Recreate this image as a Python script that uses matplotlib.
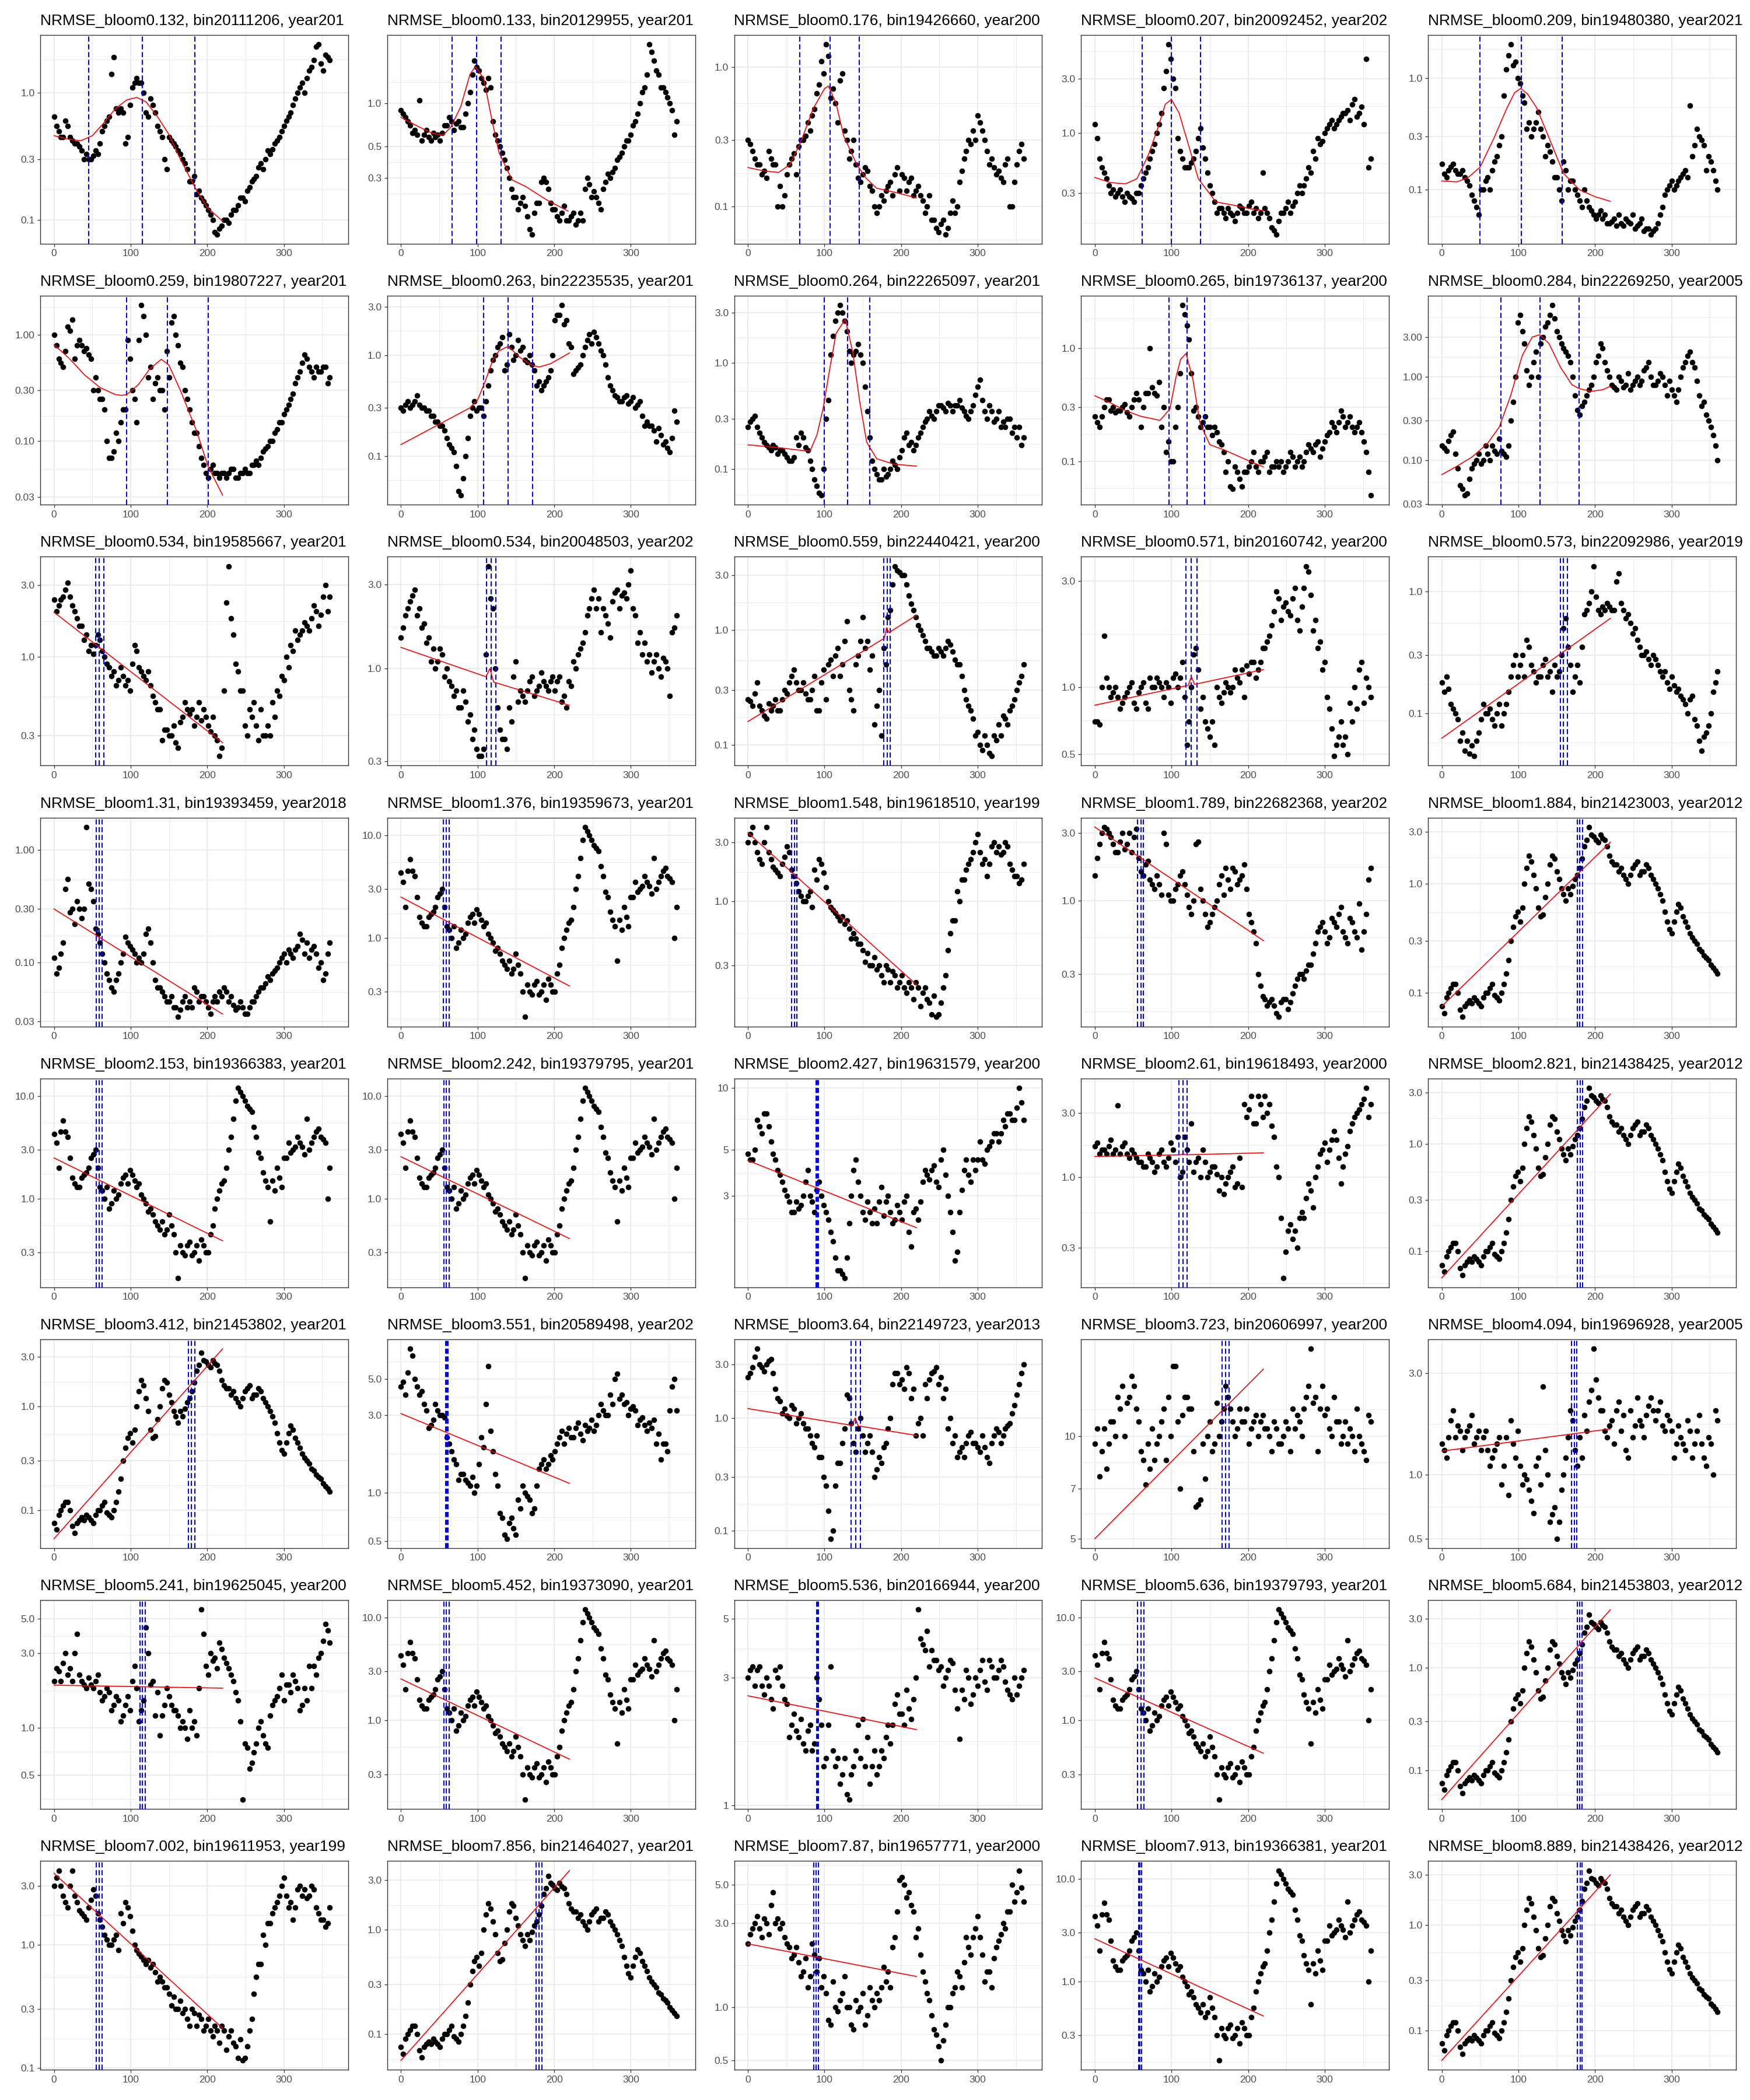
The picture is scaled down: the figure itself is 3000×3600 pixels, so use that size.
import numpy as np
import matplotlib
matplotlib.use("Agg")
import matplotlib.pyplot as plt
from matplotlib.ticker import FixedLocator, NullFormatter
from matplotlib.transforms import Bbox, TransformedBbox

plt.rcParams["font.family"] = ["Liberation Sans", "DejaVu Sans"]

# day-of-year sampling grids: sNN is read at days 0,6,...,360 and sNNm at 3,9,...,357
days = np.arange(0, 361, 6)
days_mid = np.arange(3, 358, 6)

s01 = [0.65, 0.5, 0.45, 0.55, 0.42, 0.4, 0.35, 0.33, 0.3, 0.35,
       0.4, 0.55, 0.65, 1.9, 0.7, 0.7, 0.45, 1.1, 1.3, 1.2,
       0.7, 0.9, 0.7, 0.5, 0.3, 0.45, 0.4, 0.35, 0.3, 0.25,
       0.2, 0.16, 0.15, 0.13, 0.11, 0.08, 0.085, 0.1, 0.095, 0.12,
       0.13, 0.15, 0.17, 0.2, 0.22, 0.28, 0.3, 0.33, 0.4, 0.45,
       0.55, 0.65, 0.8, 1.0, 1.2, 1.3, 1.6, 2.3, 1.7, 2.0,
       1.8]
s01m = [0.55, 0.45, 0.6, 0.45, 0.4, 0.38, 0.3, 0.3, 0.32, 0.33,
        0.5, 0.6, 1.4, 0.75, 0.75, 0.4, 0.8, 1.2, 1.2, 1.0,
        0.65, 0.8, 0.55, 0.45, 0.25, 0.42, 0.38, 0.33, 0.28, 0.2,
        0.22, 0.17, 0.14, 0.12, 0.1, 0.077, 0.09, 0.1, 0.11, 0.12,
        0.15, 0.14, 0.18, 0.21, 0.26, 0.25, 0.35, 0.36, 0.42, 0.5,
        0.6, 0.7, 0.9, 1.1, 1.0, 1.5, 1.8, 2.4, 1.5, 1.9]
s02 = [0.9, 0.8, 0.7, 0.65, 1.05, 0.6, 0.58, 0.62, 0.6, 0.62,
       0.7, 0.75, 0.72, 0.68, 0.85, 1.2, 2.0, 1.7, 1.4, 1.5,
       0.75, 0.55, 0.45, 0.35, 0.25, 0.22, 0.2, 0.19, 0.13, 0.17,
       0.2, 0.3, 0.25, 0.18, 0.16, 0.17, 0.15, 0.16, 0.14, 0.17,
       0.25, 0.27, 0.24, 0.2, 0.25, 0.32, 0.33, 0.4, 0.45, 0.55,
       0.6, 0.75, 1.0, 1.3, 2.6, 2.0, 1.6, 1.3, 1.1, 0.9,
       0.75]
s02m = [0.85, 0.75, 0.62, 0.6, 0.55, 0.65, 0.55, 0.58, 0.55, 0.7,
        0.8, 0.65, 0.75, 0.68, 1.0, 1.6, 1.8, 1.5, 1.25, 1.3,
        0.6, 0.5, 0.4, 0.3, 0.22, 0.18, 0.22, 0.16, 0.12, 0.2,
        0.28, 0.28, 0.2, 0.18, 0.15, 0.19, 0.15, 0.17, 0.15, 0.15,
        0.3, 0.22, 0.22, 0.18, 0.28, 0.3, 0.35, 0.42, 0.5, 0.55,
        0.7, 0.85, 1.2, 1.6, 2.3, 1.7, 1.3, 1.2, 1.0, 0.6]
s03 = [0.3, 0.25, 0.2, 0.17, 0.16, 0.22, 0.2, 0.14, 0.12, 0.2,
       0.24, 0.27, 0.3, 0.4, 0.45, 0.65, 1.1, 1.45, 0.6, 0.55,
       0.8, 0.35, 0.22, 0.3, 0.16, 0.17, 0.18, 0.13, 0.09, 0.12,
       0.13, 0.15, 0.17, 0.13, 0.16, 0.15, 0.12, 0.14, 0.11, 0.1,
       0.08, 0.07, 0.075, 0.063, 0.09, 0.09, 0.15, 0.22, 0.3, 0.35,
       0.45, 0.35, 0.25, 0.22, 0.17, 0.16, 0.2, 0.1, 0.15, 0.25,
       0.22]
s03m = [0.28, 0.22, 0.2, 0.18, 0.25, 0.2, 0.1, 0.1, 0.17, 0.22,
        0.17, 0.3, 0.32, 0.35, 0.5, 0.75, 0.9, 1.2, 0.7, 0.4,
        0.9, 0.3, 0.25, 0.2, 0.15, 0.19, 0.14, 0.1, 0.1, 0.11,
        0.14, 0.12, 0.19, 0.17, 0.13, 0.16, 0.13, 0.12, 0.09, 0.12,
        0.08, 0.065, 0.08, 0.07, 0.11, 0.1, 0.18, 0.25, 0.28, 0.3,
        0.4, 0.3, 0.2, 0.19, 0.18, 0.15, 0.22, 0.1, 0.2, 0.28]
s04 = [1.2, 0.6, 0.45, 0.35, 0.32, 0.3, 0.28, 0.3, 0.27, 0.3,
       0.35, 0.45, 0.6, 0.8, 1.2, 2.5, 6.0, 3.0, 0.9, 0.6,
       0.5, 0.55, 0.7, 1.1, 0.6, 0.35, 0.25, 0.22, 0.2, 0.22,
       0.19, 0.2, 0.22, 0.2, 0.25, 0.22, 0.2, 0.22, 0.18, 0.14,
       0.17, 0.2, 0.25, 0.23, 0.3, 0.3, 0.4, 0.45, 0.6, 0.8,
       1.0, 1.2, 1.1, 1.3, 1.5, 1.6, 1.8, 1.4, 1.7, 4.5,
       0.6]
s04m = [0.9, 0.5, 0.4, 0.3, 0.28, 0.32, 0.25, 0.28, 0.25, 0.3,
        0.4, 0.5, 0.7, 1.0, 1.5, 3.5, 4.5, 2.5, 0.7, 0.5,
        0.5, 0.6, 0.9, 0.75, 0.45, 0.3, 0.2, 0.22, 0.18, 0.2,
        0.17, 0.23, 0.2, 0.23, 0.2, 0.18, 0.45, 0.2, 0.15, 0.13,
        0.2, 0.22, 0.2, 0.25, 0.35, 0.35, 0.5, 0.7, 0.9, 0.85,
        1.1, 1.3, 1.2, 1.4, 1.5, 1.3, 2.0, 1.5, 1.2, 0.5]
s05 = [0.17, 0.13, 0.16, 0.15, 0.14, 0.13, 0.11, 0.08, 0.06, 0.1,
       0.13, 0.15, 0.2, 0.3, 1.2, 2.0, 1.4, 0.9, 0.6, 0.4,
       0.35, 0.5, 0.3, 0.25, 0.18, 0.13, 0.08, 0.15, 0.12, 0.1,
       0.08, 0.1, 0.07, 0.06, 0.06, 0.055, 0.05, 0.052, 0.048, 0.05,
       0.055, 0.05, 0.045, 0.05, 0.043, 0.045, 0.043, 0.05, 0.07, 0.1,
       0.12, 0.11, 0.13, 0.15, 0.57, 0.25, 0.3, 0.25, 0.2, 0.15,
       0.1]
s05m = [0.14, 0.15, 0.17, 0.14, 0.15, 0.12, 0.09, 0.07, 0.1, 0.12,
        0.1, 0.18, 0.25, 0.7, 1.6, 1.3, 1.0, 0.7, 0.35, 0.3,
        0.4, 0.35, 0.2, 0.22, 0.13, 0.1, 0.18, 0.1, 0.12, 0.09,
        0.07, 0.08, 0.065, 0.055, 0.065, 0.06, 0.05, 0.055, 0.06, 0.048,
        0.052, 0.06, 0.048, 0.055, 0.045, 0.04, 0.045, 0.06, 0.09, 0.11,
        0.1, 0.12, 0.14, 0.13, 0.2, 0.35, 0.28, 0.15, 0.18, 0.12]
s06 = [1.0, 0.6, 0.5, 1.2, 1.4, 0.8, 0.8, 0.75, 0.6, 0.4,
       0.25, 0.2, 0.07, 0.08, 0.1, 0.2, 0.9, 0.3, 0.15, 1.9,
       1.0, 0.5, 0.35, 0.3, 0.2, 0.4, 1.5, 0.8, 0.5, 0.25,
       0.15, 0.12, 0.07, 0.05, 0.055, 0.05, 0.045, 0.05, 0.05, 0.055,
       0.045, 0.05, 0.05, 0.06, 0.065, 0.07, 0.085, 0.1, 0.12, 0.15,
       0.18, 0.22, 0.28, 0.4, 0.55, 0.6, 0.45, 0.5, 0.45, 0.5,
       0.4]
s06m = [0.8, 0.55, 0.7, 1.1, 0.6, 0.9, 0.7, 0.65, 0.3, 0.3,
        0.25, 0.1, 0.07, 0.12, 0.15, 0.2, 0.6, 0.25, 0.9, 1.5,
        0.4, 0.25, 0.4, 0.3, 0.7, 1.3, 1.0, 0.55, 0.3, 0.2,
        0.12, 0.09, 0.06, 0.045, 0.06, 0.05, 0.05, 0.045, 0.055, 0.045,
        0.05, 0.055, 0.05, 0.06, 0.06, 0.08, 0.09, 0.1, 0.13, 0.15,
        0.2, 0.25, 0.35, 0.45, 0.65, 0.5, 0.4, 0.45, 0.5, 0.35]
s07 = [0.3, 0.32, 0.3, 0.35, 0.32, 0.3, 0.28, 0.25, 0.22, 0.2,
       0.15, 0.12, 0.08, 0.041, 0.1, 0.25, 0.35, 0.3, 0.25, 0.5,
       0.9, 1.2, 1.5, 0.8, 1.2, 1.0, 1.1, 0.9, 1.0, 0.7,
       0.55, 0.5, 0.6, 1.0, 2.5, 3.1, 2.2, 1.2, 0.7, 0.8,
       1.2, 1.6, 1.7, 1.3, 1.0, 0.6, 0.45, 0.38, 0.35, 0.4,
       0.35, 0.3, 0.35, 0.2, 0.2, 0.18, 0.19, 0.13, 0.12, 0.15,
       0.22]
s07m = [0.28, 0.35, 0.32, 0.4, 0.3, 0.28, 0.25, 0.22, 0.2, 0.18,
        0.13, 0.11, 0.045, 0.06, 0.15, 0.3, 0.28, 0.3, 0.35, 0.7,
        1.0, 1.3, 0.7, 1.6, 0.9, 1.4, 1.2, 0.85, 0.8, 0.5,
        0.45, 0.55, 0.7, 2.2, 2.5, 2.0, 1.3, 0.65, 0.75, 1.0,
        1.4, 1.3, 1.5, 1.1, 0.8, 0.5, 0.4, 0.35, 0.38, 0.33,
        0.38, 0.32, 0.25, 0.22, 0.2, 0.14, 0.16, 0.14, 0.11, 0.28]
s08 = [0.25, 0.3, 0.25, 0.2, 0.17, 0.15, 0.16, 0.15, 0.14, 0.12,
       0.13, 0.17, 0.2, 0.15, 0.1, 0.07, 0.057, 0.3, 1.2, 2.5,
       3.5, 2.5, 1.3, 1.2, 1.5, 1.0, 0.35, 0.12, 0.09, 0.08,
       0.085, 0.1, 0.11, 0.13, 0.2, 0.17, 0.15, 0.2, 0.25, 0.3,
       0.32, 0.35, 0.4, 0.35, 0.4, 0.4, 0.45, 0.35, 0.3, 0.4,
       0.6, 0.45, 0.3, 0.35, 0.3, 0.25, 0.25, 0.3, 0.25, 0.25,
       0.2]
s08m = [0.28, 0.32, 0.22, 0.18, 0.16, 0.17, 0.14, 0.15, 0.13, 0.12,
        0.2, 0.22, 0.16, 0.12, 0.08, 0.06, 0.1, 0.45, 1.8, 3.0,
        3.0, 2.0, 1.0, 1.3, 1.2, 0.6, 0.2, 0.1, 0.08, 0.1,
        0.09, 0.12, 0.1, 0.15, 0.22, 0.18, 0.17, 0.22, 0.28, 0.35,
        0.3, 0.4, 0.38, 0.42, 0.35, 0.4, 0.38, 0.32, 0.35, 0.5,
        0.7, 0.35, 0.4, 0.28, 0.35, 0.28, 0.3, 0.22, 0.2, 0.17]
s09 = [0.25, 0.2, 0.3, 0.35, 0.3, 0.28, 0.3, 0.27, 0.3, 0.4,
       0.2, 0.4, 1.0, 0.4, 0.5, 0.3, 0.15, 0.1, 0.3, 2.4,
       1.6, 0.6, 0.3, 0.2, 0.25, 0.2, 0.2, 0.15, 0.12, 0.1,
       0.057, 0.08, 0.06, 0.08, 0.1, 0.09, 0.1, 0.11, 0.08, 0.09,
       0.09, 0.08, 0.1, 0.11, 0.1, 0.09, 0.12, 0.13, 0.14, 0.11,
       0.15, 0.18, 0.2, 0.22, 0.25, 0.22, 0.2, 0.2, 0.18, 0.12,
       0.05]
s09m = [0.22, 0.25, 0.35, 0.28, 0.27, 0.28, 0.32, 0.25, 0.35, 0.35,
        0.3, 0.4, 0.45, 0.38, 0.2, 0.12, 0.1, 0.2, 0.6, 2.0,
        1.2, 0.28, 0.25, 0.22, 0.2, 0.17, 0.18, 0.14, 0.08, 0.06,
        0.09, 0.07, 0.08, 0.09, 0.12, 0.08, 0.1, 0.12, 0.09, 0.1,
        0.1, 0.09, 0.12, 0.09, 0.11, 0.1, 0.14, 0.12, 0.15, 0.13,
        0.17, 0.22, 0.18, 0.28, 0.2, 0.25, 0.18, 0.22, 0.15, 0.08]
s10 = [0.15, 0.13, 0.2, 0.12, 0.05, 0.038, 0.06, 0.09, 0.12, 0.1,
       0.12, 0.15, 0.12, 0.13, 0.11, 0.3, 1.0, 5.5, 2.5, 0.8,
       1.5, 1.0, 3.0, 4.5, 7.2, 3.5, 2.5, 2.0, 1.5, 0.6,
       0.35, 0.5, 0.7, 1.0, 1.8, 2.2, 1.2, 0.8, 0.7, 0.9,
       0.8, 0.7, 0.9, 0.8, 1.2, 1.5, 0.8, 0.9, 1.0, 0.6,
       0.7, 0.5, 1.0, 1.5, 2.0, 1.3, 0.6, 0.5, 0.3, 0.2,
       0.1]
s10m = [0.14, 0.17, 0.22, 0.08, 0.045, 0.04, 0.08, 0.1, 0.09, 0.15,
        0.1, 0.13, 0.18, 0.12, 0.15, 0.5, 4.5, 3.5, 1.2, 1.0,
        2.0, 2.5, 4.0, 5.5, 5.0, 3.0, 2.2, 1.8, 1.0, 0.4,
        0.45, 0.6, 0.8, 1.5, 2.5, 1.5, 1.0, 0.75, 1.0, 0.75,
        1.1, 0.8, 1.0, 0.9, 1.3, 1.0, 0.8, 1.1, 0.8, 0.9,
        0.6, 0.7, 1.3, 1.8, 1.5, 0.9, 0.45, 0.35, 0.25, 0.15]
s11 = [2.4, 2.2, 2.5, 3.1, 2.2, 1.8, 1.6, 1.4, 1.2, 1.2,
       1.3, 1.0, 0.85, 0.8, 0.7, 0.75, 0.7, 0.9, 1.1, 0.8,
       0.7, 0.65, 0.5, 0.45, 0.33, 0.3, 0.35, 0.25, 0.4, 0.45,
       0.45, 0.4, 0.38, 0.4, 0.32, 0.3, 0.22, 0.6, 4.0, 1.4,
       0.8, 0.6, 0.3, 0.4, 0.35, 0.45, 0.3, 0.3, 0.4, 0.55,
       0.7, 0.85, 1.1, 1.3, 1.5, 1.6, 1.8, 2.0, 1.9, 3.0,
       2.5]
s11m = [2.0, 2.4, 2.8, 2.5, 2.0, 1.6, 1.3, 1.1, 1.05, 1.4,
        1.1, 0.9, 0.75, 0.65, 0.85, 0.65, 0.6, 1.2, 0.85, 0.75,
        0.8, 0.55, 0.45, 0.28, 0.33, 0.3, 0.27, 0.37, 0.5, 0.42,
        0.35, 0.5, 0.45, 0.35, 0.4, 0.28, 0.25, 2.3, 1.8, 0.9,
        0.6, 0.35, 0.45, 0.5, 0.28, 0.3, 0.35, 0.5, 0.6, 0.75,
        1.0, 1.2, 1.5, 1.4, 1.7, 1.5, 2.2, 1.6, 2.5, 2.0]
s12 = [1.5, 2.0, 2.4, 2.8, 2.2, 1.8, 1.5, 1.3, 1.1, 1.2,
       1.0, 0.8, 0.75, 0.6, 0.65, 0.55, 0.45, 0.32, 0.35, 3.8,
       2.2, 0.6, 0.4, 0.35, 0.5, 1.1, 0.75, 0.65, 0.85, 0.7,
       0.8, 0.85, 0.75, 0.9, 0.85, 0.65, 0.6, 0.8, 1.0, 1.3,
       1.6, 2.2, 2.8, 2.5, 2.2, 1.8, 2.4, 2.8, 2.6, 2.5,
       3.6, 2.0, 1.6, 1.4, 1.2, 1.1, 1.0, 1.15, 1.0, 1.6,
       2.0]
s12m = [1.7, 2.2, 2.6, 2.0, 1.7, 1.4, 1.1, 1.0, 1.3, 0.9,
        0.85, 0.7, 0.6, 0.75, 0.5, 0.4, 0.35, 0.32, 1.2, 2.5,
        1.0, 0.45, 0.4, 0.6, 0.9, 0.65, 0.7, 0.75, 0.9, 0.75,
        0.95, 0.8, 0.85, 0.75, 0.9, 0.7, 0.85, 1.1, 1.2, 1.4,
        2.0, 2.5, 2.2, 1.6, 2.0, 1.5, 2.7, 2.2, 2.7, 3.0,
        2.2, 1.4, 1.2, 1.1, 0.95, 1.2, 0.9, 1.1, 0.7, 1.7]
s13 = [0.25, 0.22, 0.35, 0.2, 0.17, 0.2, 0.25, 0.2, 0.3, 0.35,
       0.45, 0.3, 0.35, 0.25, 0.3, 0.2, 0.35, 0.25, 0.55, 0.6,
       0.4, 0.8, 0.3, 0.2, 0.6, 1.3, 0.8, 0.6, 0.22, 0.12,
       0.5, 1.5, 3.6, 3.2, 3.0, 2.0, 1.5, 1.1, 0.9, 0.7,
       0.65, 0.6, 0.65, 0.7, 0.75, 0.55, 0.5, 0.3, 0.22, 0.17,
       0.13, 0.09, 0.1, 0.08, 0.11, 0.12, 0.17, 0.2, 0.25, 0.35,
       0.5]
s13m = [0.24, 0.28, 0.22, 0.18, 0.23, 0.22, 0.2, 0.25, 0.28, 0.4,
        0.35, 0.3, 0.28, 0.25, 0.4, 0.2, 0.45, 0.5, 0.4, 0.7,
        0.5, 1.2, 0.25, 0.5, 0.8, 0.7, 0.45, 0.15, 0.3, 0.7,
        1.3, 2.5, 3.3, 3.0, 2.5, 1.7, 1.3, 1.0, 0.8, 0.7,
        0.6, 0.7, 0.6, 0.8, 0.65, 0.5, 0.4, 0.25, 0.2, 0.12,
        0.1, 0.12, 0.085, 0.12, 0.15, 0.18, 0.15, 0.22, 0.3, 0.4]
s14 = [0.7, 0.68, 1.7, 1.0, 0.95, 0.9, 0.85, 0.95, 1.05, 0.8,
       1.0, 0.85, 1.1, 1.0, 1.05, 0.9, 1.0, 1.1, 1.0, 1.3,
       0.55, 1.0, 1.5, 0.8, 0.7, 0.6, 0.55, 0.9, 0.95, 1.0,
       1.0, 1.1, 1.2, 1.25, 1.3, 1.1, 1.3, 1.5, 1.7, 2.2,
       2.5, 2.3, 2.2, 2.5, 2.0, 2.3, 3.5, 2.6, 2.0, 1.6,
       1.3, 0.8, 0.49, 0.6, 0.55, 0.5, 0.7, 0.8, 1.3, 1.1,
       0.9]
s14m = [0.7, 1.0, 1.1, 0.9, 1.0, 0.8, 0.9, 1.0, 0.85, 0.95,
        1.05, 0.8, 1.0, 1.1, 1.0, 1.05, 0.85, 1.15, 1.1, 0.9,
        0.7, 1.4, 1.2, 0.9, 0.65, 0.7, 1.0, 0.85, 1.05, 0.95,
        1.2, 1.05, 0.9, 1.15, 1.3, 1.2, 1.5, 1.6, 1.9, 2.7,
        2.0, 2.4, 2.1, 2.8, 1.8, 2.8, 3.3, 1.8, 1.5, 1.2,
        0.9, 0.65, 0.55, 0.7, 0.6, 0.85, 1.0, 1.2, 0.85, 1.0]
s15 = [0.18, 0.2, 0.12, 0.1, 0.06, 0.05, 0.047, 0.045, 0.07, 0.12,
       0.1, 0.09, 0.1, 0.08, 0.12, 0.2, 0.3, 0.25, 0.2, 0.35,
       0.22, 0.2, 0.25, 0.2, 0.15, 0.2, 0.3, 0.6, 0.25, 0.2,
       0.18, 0.65, 0.8, 1.6, 0.7, 0.75, 0.8, 0.7, 1.2, 0.8,
       0.6, 0.55, 0.5, 0.35, 0.3, 0.28, 0.3, 0.25, 0.2, 0.18,
       0.2, 0.15, 0.14, 0.12, 0.13, 0.09, 0.06, 0.065, 0.08, 0.15,
       0.22]
s15m = [0.15, 0.16, 0.11, 0.09, 0.07, 0.06, 0.055, 0.06, 0.09, 0.1,
        0.11, 0.08, 0.12, 0.1, 0.15, 0.25, 0.2, 0.3, 0.4, 0.25,
        0.18, 0.2, 0.28, 0.22, 0.25, 0.22, 0.5, 0.35, 0.15, 0.25,
        0.35, 0.7, 1.0, 0.9, 0.65, 0.7, 0.75, 0.7, 1.4, 0.7,
        0.65, 0.45, 0.4, 0.3, 0.32, 0.25, 0.28, 0.22, 0.22, 0.16,
        0.17, 0.16, 0.13, 0.1, 0.14, 0.08, 0.05, 0.07, 0.1, 0.18]
s16 = [0.11, 0.09, 0.15, 0.55, 0.3, 0.35, 0.25, 1.6, 0.45, 0.2,
       0.15, 0.1, 0.07, 0.055, 0.08, 0.12, 0.15, 0.13, 0.1, 0.1,
       0.18, 0.15, 0.07, 0.06, 0.05, 0.045, 0.04, 0.033, 0.045, 0.04,
       0.04, 0.055, 0.05, 0.045, 0.035, 0.05, 0.055, 0.06, 0.045, 0.042,
       0.04, 0.04, 0.035, 0.045, 0.05, 0.06, 0.065, 0.07, 0.085, 0.1,
       0.12, 0.13, 0.11, 0.14, 0.16, 0.15, 0.13, 0.12, 0.1, 0.08,
       0.15]
s16m = [0.08, 0.12, 0.45, 0.28, 0.22, 0.3, 0.3, 0.5, 0.35, 0.18,
        0.12, 0.08, 0.06, 0.07, 0.1, 0.17, 0.14, 0.12, 0.11, 0.12,
        0.2, 0.1, 0.06, 0.055, 0.045, 0.05, 0.04, 0.038, 0.05, 0.045,
        0.06, 0.045, 0.05, 0.04, 0.045, 0.045, 0.05, 0.055, 0.05, 0.038,
        0.045, 0.035, 0.04, 0.045, 0.055, 0.06, 0.075, 0.08, 0.09, 0.11,
        0.1, 0.12, 0.13, 0.18, 0.12, 0.11, 0.14, 0.09, 0.07, 0.12]
s19 = [1.5, 2.5, 3.3, 3.0, 2.5, 2.2, 3.0, 2.5, 2.2, 3.2,
       1.6, 1.8, 1.4, 1.2, 1.3, 3.0, 1.1, 1.0, 1.3, 1.6,
       1.1, 0.8, 2.5, 1.2, 0.8, 0.7, 0.9, 1.3, 1.1, 1.4,
       1.7, 1.3, 1.5, 1.2, 0.7, 0.5, 0.25, 0.2, 0.19, 0.18,
       0.15, 0.2, 0.17, 0.22, 0.28, 0.3, 0.32, 0.35, 0.5, 0.65,
       0.6, 0.55, 0.7, 0.8, 0.6, 0.5, 0.7, 0.55, 0.45, 0.8,
       1.7]
s19m = [2.0, 3.0, 3.2, 2.8, 2.2, 2.6, 2.3, 3.0, 2.8, 2.0,
        1.5, 1.9, 1.3, 1.5, 1.1, 2.5, 1.0, 1.2, 1.5, 1.3,
        0.9, 1.0, 2.6, 1.0, 0.65, 0.8, 1.0, 1.5, 1.7, 1.2,
        1.6, 1.4, 1.8, 0.8, 0.6, 0.3, 0.21, 0.18, 0.2, 0.16,
        0.19, 0.2, 0.19, 0.25, 0.3, 0.28, 0.35, 0.42, 0.6, 0.7,
        0.5, 0.75, 0.65, 0.9, 0.55, 0.75, 0.6, 0.95, 0.6, 1.4]
s23 = [4.8, 4.5, 7.0, 6.0, 7.5, 5.5, 4.5, 3.8, 3.2, 2.8,
       2.5, 2.6, 3.0, 4.0, 2.8, 3.2, 3.0, 2.5, 2.0, 1.5,
       1.3, 1.2, 2.2, 4.0, 3.5, 2.5, 2.8, 2.2, 2.2, 3.3,
       2.8, 2.5, 2.3, 2.5, 2.8, 2.0, 2.5, 2.3, 3.5, 3.8,
       4.0, 3.5, 4.5, 3.8, 2.5, 1.45, 2.5, 4.0, 3.8, 4.5,
       4.5, 4.5, 5.0, 5.5, 6.0, 6.0, 6.5, 7.5, 7.0, 10.0,
       7.0]
s23m = [4.5, 5.0, 6.5, 7.5, 6.5, 4.8, 4.0, 3.5, 3.0, 2.5,
        2.8, 2.7, 3.5, 3.0, 2.5, 3.5, 2.7, 2.3, 1.8, 1.3,
        1.25, 1.5, 3.0, 4.5, 3.0, 2.3, 2.5, 2.6, 2.8, 2.4,
        3.0, 2.2, 2.7, 2.3, 3.0, 1.7, 2.6, 2.8, 4.0, 3.6,
        4.2, 3.3, 5.0, 3.0, 2.0, 1.6, 3.2, 4.5, 3.5, 4.0,
        5.5, 4.3, 5.2, 6.0, 5.5, 7.0, 7.5, 7.0, 8.0, 8.5]
s24 = [1.7, 1.5, 1.6, 1.7, 1.5, 3.4, 1.7, 1.5, 1.6, 1.4,
       1.3, 1.2, 1.4, 1.1, 1.5, 1.3, 1.4, 1.6, 2.0, 1.1,
       1.6, 2.5, 1.3, 1.0, 1.3, 1.1, 1.2, 0.8, 0.75, 1.0,
       1.2, 0.9, 0.85, 2.8, 4.0, 2.5, 3.5, 4.0, 3.5, 2.0,
       1.0, 0.18, 0.4, 0.35, 0.3, 0.55, 0.7, 0.8, 1.0, 1.5,
       1.8, 1.6, 2.2, 1.4, 1.2, 1.7, 2.5, 3.0, 3.5, 4.6,
       3.5]
s24m = [1.8, 1.6, 1.5, 1.9, 1.6, 1.5, 1.8, 1.4, 1.5, 1.3,
        1.2, 1.5, 1.3, 1.2, 1.6, 1.2, 1.8, 1.3, 1.0, 2.0,
        1.3, 1.1, 1.4, 1.6, 1.0, 1.2, 1.05, 1.0, 0.9, 1.1,
        0.85, 1.4, 3.5, 3.2, 2.5, 4.0, 2.8, 3.0, 2.4, 1.2,
        0.5, 0.28, 0.45, 0.4, 0.5, 0.5, 0.9, 0.6, 1.2, 1.6,
        1.3, 1.9, 1.9, 0.9, 1.5, 2.2, 2.8, 3.2, 3.8, 2.8]
s27 = [4.5, 4.0, 7.7, 5.0, 4.0, 3.5, 2.5, 2.8, 3.2, 3.0,
       2.2, 1.8, 1.5, 1.3, 1.2, 1.1, 1.0, 1.5, 1.9, 6.0,
       1.8, 1.1, 0.7, 0.52, 0.7, 0.55, 0.8, 1.0, 0.9, 0.8,
       1.4, 1.6, 1.5, 1.6, 2.0, 2.4, 2.3, 2.2, 2.5, 2.3,
       2.6, 2.5, 2.4, 3.0, 3.2, 3.0, 3.5, 5.4, 4.0, 3.6,
       3.3, 3.2, 2.8, 2.6, 2.7, 2.8, 2.3, 2.0, 1.8, 4.5,
       3.2]
s27m = [4.8, 5.5, 7.0, 4.5, 4.2, 3.2, 2.6, 3.5, 3.0, 2.9,
        2.0, 1.6, 1.2, 1.3, 1.15, 1.25, 1.1, 2.2, 3.5, 2.4,
        1.3, 0.75, 0.55, 0.65, 0.6, 0.9, 1.1, 0.95, 0.75, 1.1,
        1.5, 1.4, 1.7, 1.8, 2.2, 2.0, 2.5, 2.2, 2.7, 2.1,
        2.4, 2.8, 2.6, 3.5, 3.0, 4.0, 5.0, 3.8, 3.5, 3.0,
        3.4, 2.6, 2.9, 2.4, 2.5, 2.0, 1.6, 2.0, 3.2, 5.0]
s28 = [2.3, 2.8, 4.1, 2.8, 3.0, 3.3, 1.8, 1.4, 1.2, 1.0,
       1.2, 1.0, 0.9, 0.8, 0.6, 0.7, 0.45, 0.25, 0.085, 0.25,
       0.4, 0.8, 1.5, 0.6, 0.8, 0.7, 0.6, 0.5, 0.35, 0.4,
       0.6, 1.0, 2.5, 2.0, 1.8, 2.5, 1.8, 0.9, 0.7, 1.5,
       2.5, 2.8, 2.3, 1.8, 1.0, 0.7, 0.5, 0.45, 0.7, 0.6,
       0.55, 0.7, 0.45, 0.6, 0.8, 0.6, 0.8, 0.9, 1.3, 2.0,
       3.0]
s28m = [2.5, 3.5, 3.0, 2.6, 3.2, 2.5, 1.5, 1.1, 1.05, 1.3,
        0.9, 1.1, 0.8, 0.7, 0.55, 0.45, 0.3, 0.15, 0.1, 0.4,
        0.6, 1.6, 0.9, 0.5, 1.0, 0.5, 0.7, 0.3, 0.45, 0.55,
        0.8, 2.0, 2.5, 2.2, 2.8, 1.5, 0.7, 1.0, 2.0, 2.2,
        2.6, 2.0, 1.5, 0.8, 0.6, 0.45, 0.55, 0.6, 0.75, 0.6,
        0.5, 0.55, 0.4, 0.7, 0.75, 0.7, 0.85, 1.1, 1.6, 2.5]
s29 = [9.5, 7.6, 10.5, 9.5, 11, 13, 14, 12.5, 15, 12,
       9.0, 7.2, 8.0, 8.5, 10, 12, 13, 16, 11, 11.5,
       13, 12, 6.2, 6.5, 7.5, 11, 9.5, 10, 12, 13,
       11, 10.5, 11, 12, 10.5, 11.5, 11, 10.5, 10, 11,
       9.5, 10, 10.5, 12, 11.5, 10, 13, 18, 13, 12,
       11.5, 10.5, 13, 11, 10, 9.5, 10, 12, 9.5, 8.5,
       11]
s29m = [10.5, 9.0, 8.0, 11, 10, 12, 10, 13, 14, 11,
        8.5, 9.5, 10.5, 9.5, 11, 8.5, 10, 16, 7.0, 13,
        12, 9, 6.3, 9.5, 10, 9, 12.5, 11, 14, 12,
        10, 12, 11, 9.5, 11, 10, 11.5, 10.5, 9, 10.5,
        9.5, 11, 9, 10.5, 11, 12, 14, 12.5, 9, 14,
        12, 10, 11, 9.5, 11, 10.5, 9, 10, 9, 11.5]
s30 = [1.4, 1.2, 1.8, 1.5, 1.6, 1.5, 1.7, 1.4, 1.6, 1.5,
       1.3, 1.2, 1.4, 0.9, 1.5, 1.8, 1.2, 1.1, 1.0, 0.85,
       0.66, 1.2, 2.6, 1.0, 0.65, 0.5, 0.85, 1.2, 2.0, 1.3,
       1.5, 1.9, 2.2, 3.9, 2.3, 2.0, 1.5, 1.8, 2.0, 1.6,
       1.3, 2.0, 1.7, 1.8, 1.5, 2.1, 2.0, 2.0, 1.7, 1.9,
       1.6, 1.4, 1.5, 1.3, 1.6, 1.4, 1.9, 1.2, 1.5, 1.0,
       1.8]
s30m = [1.3, 1.5, 2.0, 1.7, 1.3, 1.6, 1.9, 1.5, 1.3, 1.6,
        1.1, 1.3, 1.5, 1.1, 0.8, 1.4, 1.6, 0.9, 0.95, 0.75,
        1.1, 0.9, 1.3, 0.6, 0.7, 0.6, 1.0, 1.5, 1.8, 1.1,
        1.2, 1.6, 2.5, 2.8, 2.0, 1.6, 1.7, 1.4, 2.2, 1.9,
        1.2, 1.5, 2.3, 1.7, 1.9, 2.3, 1.8, 2.2, 1.6, 1.8,
        1.2, 1.7, 1.4, 1.8, 1.2, 1.6, 1.4, 1.1, 1.4, 2.0]
s31 = [2.0, 2.3, 2.6, 2.2, 2.0, 4.0, 2.0, 1.8, 1.9, 2.0,
       1.7, 1.6, 1.7, 1.4, 1.5, 1.2, 1.6, 2.0, 1.8, 1.3,
       4.4, 1.9, 1.2, 0.9, 1.4, 1.6, 1.3, 1.2, 1.1, 0.85,
       1.0, 0.9, 5.7, 2.5, 3.0, 2.8, 3.5, 2.8, 2.4, 2.0,
       1.5, 0.35, 0.75, 0.6, 0.8, 1.1, 0.8, 1.2, 1.5, 1.8,
       1.5, 1.9, 2.2, 1.8, 1.4, 1.5, 1.8, 2.2, 3.0, 4.6,
       3.5]
s31m = [2.4, 2.0, 3.0, 2.4, 3.0, 2.2, 1.9, 2.1, 1.8, 2.2,
        1.5, 1.8, 1.3, 1.6, 1.1, 1.4, 1.3, 2.5, 1.1, 1.5,
        3.0, 2.0, 1.7, 1.2, 1.8, 1.4, 1.3, 1.0, 1.0, 1.3,
        1.1, 1.8, 4.0, 2.2, 2.7, 2.4, 3.2, 2.6, 2.2, 1.7,
        1.1, 0.8, 0.55, 0.7, 1.0, 0.9, 0.75, 1.4, 1.6, 2.2,
        1.9, 1.7, 2.0, 1.3, 1.8, 2.5, 2.5, 2.8, 3.6, 4.2]
s33 = [3.0, 3.3, 3.2, 2.8, 3.0, 2.5, 3.2, 3.3, 2.5, 1.8,
       2.2, 1.8, 1.7, 1.9, 1.6, 3.0, 2.0, 1.5, 3.3, 1.4,
       1.2, 1.5, 1.05, 1.4, 2.0, 2.1, 1.8, 1.4, 1.3, 1.6,
       1.8, 1.7, 2.4, 2.2, 2.0, 2.3, 2.5, 5.4, 4.0, 4.5,
       3.8, 3.5, 3.3, 3.0, 3.5, 2.7, 1.77, 2.5, 3.0, 2.6,
       2.8, 3.5, 2.7, 3.3, 3.0, 3.5, 2.9, 2.6, 3.0, 2.8,
       3.2]
s33m = [3.2, 2.8, 3.3, 2.6, 2.8, 2.3, 3.0, 2.8, 2.4, 2.0,
        1.9, 2.1, 1.6, 2.0, 1.7, 2.5, 1.4, 2.0, 1.6, 1.5,
        1.3, 1.1, 1.3, 1.6, 1.5, 1.4, 1.2, 1.6, 1.4, 1.5,
        2.0, 2.0, 2.6, 2.2, 2.7, 2.1, 3.0, 4.2, 3.8, 3.3,
        3.5, 3.2, 2.8, 3.2, 3.4, 2.3, 2.7, 3.2, 2.4, 3.0,
        3.2, 2.9, 3.5, 3.0, 3.2, 3.3, 2.7, 2.5, 2.6, 3.0]
s38 = [2.3, 2.8, 3.3, 2.5, 3.0, 3.8, 3.0, 2.8, 2.5, 2.2,
       2.0, 1.8, 1.6, 1.3, 2.3, 1.6, 1.3, 1.2, 0.8, 1.0,
       1.1, 1.5, 1.0, 0.75, 0.95, 1.2, 0.9, 1.1, 1.2, 1.3,
       1.4, 1.3, 2.5, 5.3, 5.0, 4.5, 3.5, 2.8, 1.6, 1.2,
       0.9, 0.7, 0.5, 0.8, 1.0, 1.3, 1.5, 1.8, 2.2, 2.5,
       3.3, 2.0, 1.6, 1.3, 2.2, 2.6, 2.8, 3.5, 4.0, 6.0,
       4.0]
s38m = [2.6, 3.0, 2.8, 3.2, 2.6, 4.5, 3.2, 3.0, 2.3, 1.9,
        2.2, 1.5, 1.9, 1.5, 2.0, 1.9, 1.5, 0.85, 1.4, 0.95,
        1.2, 1.0, 0.8, 1.1, 1.0, 0.8, 1.3, 1.0, 1.1, 1.7,
        1.6, 2.2, 3.5, 5.5, 4.2, 3.8, 2.5, 2.0, 1.4, 1.1,
        0.75, 0.6, 0.65, 1.0, 1.2, 1.6, 1.3, 2.5, 2.0, 2.8,
        2.5, 1.4, 1.6, 1.9, 2.4, 3.0, 3.5, 5.0, 4.5, 4.8]
# neighbouring bins that look the same in the picture share one series
grp_a = [4.3, 2.0, 5.8, 4.0, 1.6, 1.3, 1.6, 1.8, 2.5, 3.0,
         1.3, 1.0, 0.8, 1.2, 1.1, 1.6, 1.4, 1.7, 1.3, 1.1,
         0.9, 0.8, 0.6, 0.5, 0.45, 0.7, 0.45, 0.17, 0.3, 0.35,
         0.28, 0.35, 0.4, 0.3, 0.45, 0.8, 1.2, 1.5, 3.0, 6.0,
         12.0, 10.0, 8.0, 7.0, 4.0, 2.5, 1.5, 0.6, 1.2, 1.6,
         2.5, 3.5, 3.0, 4.0, 3.2, 6.0, 3.5, 4.5, 4.0, 3.5,
         2.0]
grp_am = [3.5, 4.5, 4.5, 2.5, 1.4, 1.3, 1.7, 2.0, 2.7, 2.0,
          1.2, 1.3, 0.9, 1.0, 1.4, 1.7, 1.9, 1.5, 1.4, 1.0,
          0.75, 0.7, 0.55, 0.6, 0.5, 0.55, 0.3, 0.35, 0.28, 0.38,
          0.3, 0.25, 0.35, 0.3, 0.55, 1.0, 1.4, 2.0, 4.0, 9.0,
          11.0, 9.0, 7.5, 5.0, 2.8, 1.8, 1.3, 1.5, 2.0, 1.3,
          2.5, 2.8, 3.2, 3.5, 2.7, 3.0, 4.0, 4.8, 3.8, 1.0]
grp_b = [0.075, 0.09, 0.11, 0.12, 0.07, 0.075, 0.085, 0.09, 0.08, 0.09,
         0.1, 0.12, 0.09, 0.1, 0.15, 0.3, 0.5, 0.45, 1.0, 1.8,
         1.2, 0.6, 0.52, 1.0, 1.8, 1.3, 0.9, 0.7, 0.8, 1.1,
         1.4, 2.2, 3.3, 2.7, 2.4, 2.6, 2.2, 1.6, 1.5, 1.4,
         1.1, 1.2, 1.5, 1.2, 1.3, 1.4, 1.1, 0.9, 0.7, 0.45,
         0.35, 0.55, 0.6, 0.45, 0.35, 0.3, 0.25, 0.22, 0.2, 0.17,
         0.15]
grp_bm = [0.065, 0.1, 0.12, 0.1, 0.06, 0.08, 0.08, 0.085, 0.075, 0.1,
          0.11, 0.095, 0.085, 0.12, 0.2, 0.4, 0.55, 0.6, 1.4, 1.6,
          0.9, 0.5, 0.75, 1.5, 1.7, 1.1, 0.8, 0.9, 0.95, 1.2,
          1.7, 2.5, 2.8, 2.5, 2.8, 2.5, 1.8, 1.5, 1.3, 1.2,
          1.0, 1.4, 1.6, 1.3, 1.5, 1.2, 1.0, 0.8, 0.55, 0.38,
          0.45, 0.65, 0.5, 0.4, 0.32, 0.28, 0.24, 0.21, 0.18, 0.16]
grp_c = [3.0, 4.0, 2.5, 2.0, 4.0, 2.2, 1.8, 1.6, 2.3, 2.5,
         1.6, 1.2, 1.0, 1.1, 0.9, 1.5, 2.0, 1.3, 0.9, 0.8,
         0.7, 0.65, 0.6, 0.55, 0.45, 0.4, 0.38, 0.3, 0.28, 0.25,
         0.3, 0.22, 0.25, 0.22, 0.2, 0.22, 0.16, 0.2, 0.18, 0.16,
         0.12, 0.115, 0.15, 0.25, 0.55, 0.7, 1.0, 1.5, 2.0, 2.5,
         3.5, 2.0, 1.6, 2.8, 2.5, 2.4, 3.0, 2.0, 1.6, 1.4,
         2.0]
grp_cm = [3.5, 3.0, 2.2, 3.0, 2.5, 1.9, 1.7, 2.0, 2.8, 1.8,
          1.4, 1.1, 1.0, 1.2, 1.8, 2.2, 1.7, 1.0, 0.85, 0.75,
          0.75, 0.7, 0.5, 0.5, 0.45, 0.32, 0.3, 0.35, 0.3, 0.22,
          0.28, 0.27, 0.2, 0.25, 0.18, 0.2, 0.22, 0.14, 0.2, 0.15,
          0.17, 0.12, 0.2, 0.4, 0.7, 1.2, 1.5, 1.8, 2.2, 3.0,
          2.5, 2.2, 2.0, 3.0, 2.8, 2.5, 2.8, 1.8, 1.6, 1.5]

panel_series = [s01, s02, s03, s04, s05,
                s06, s07, s08, s09, s10,
                s11, s12, s13, s14, s15,
                s16, grp_a, grp_c, s19, grp_b,
                grp_a, grp_a, s23, s24, grp_b,
                grp_b, s27, s28, s29, s30,
                s31, grp_a, s33, grp_a, grp_b,
                grp_c, grp_b, s38, grp_a, grp_b]
panel_series_mid = [s01m, s02m, s03m, s04m, s05m,
                    s06m, s07m, s08m, s09m, s10m,
                    s11m, s12m, s13m, s14m, s15m,
                    s16m, grp_am, grp_cm, s19m, grp_bm,
                    grp_am, grp_am, s23m, s24m, grp_bm,
                    grp_bm, s27m, s28m, s29m, s30m,
                    s31m, grp_am, s33m, grp_am, grp_bm,
                    grp_cm, grp_bm, s38m, grp_am, grp_bm]

titles = [
    "NRMSE_bloom0.132, bin20111206, year201", "NRMSE_bloom0.133, bin20129955, year201",
    "NRMSE_bloom0.176, bin19426660, year200", "NRMSE_bloom0.207, bin20092452, year202",
    "NRMSE_bloom0.209, bin19480380, year2021",
    "NRMSE_bloom0.259, bin19807227, year201", "NRMSE_bloom0.263, bin22235535, year201",
    "NRMSE_bloom0.264, bin22265097, year201", "NRMSE_bloom0.265, bin19736137, year200",
    "NRMSE_bloom0.284, bin22269250, year2005",
    "NRMSE_bloom0.534, bin19585667, year201", "NRMSE_bloom0.534, bin20048503, year202",
    "NRMSE_bloom0.559, bin22440421, year200", "NRMSE_bloom0.571, bin20160742, year200",
    "NRMSE_bloom0.573, bin22092986, year2019",
    "NRMSE_bloom1.31, bin19393459, year2018", "NRMSE_bloom1.376, bin19359673, year201",
    "NRMSE_bloom1.548, bin19618510, year199", "NRMSE_bloom1.789, bin22682368, year202",
    "NRMSE_bloom1.884, bin21423003, year2012",
    "NRMSE_bloom2.153, bin19366383, year201", "NRMSE_bloom2.242, bin19379795, year201",
    "NRMSE_bloom2.427, bin19631579, year200", "NRMSE_bloom2.61, bin19618493, year2000",
    "NRMSE_bloom2.821, bin21438425, year2012",
    "NRMSE_bloom3.412, bin21453802, year201", "NRMSE_bloom3.551, bin20589498, year202",
    "NRMSE_bloom3.64, bin22149723, year2013", "NRMSE_bloom3.723, bin20606997, year200",
    "NRMSE_bloom4.094, bin19696928, year2005",
    "NRMSE_bloom5.241, bin19625045, year200", "NRMSE_bloom5.452, bin19373090, year201",
    "NRMSE_bloom5.536, bin20166944, year200", "NRMSE_bloom5.636, bin19379793, year201",
    "NRMSE_bloom5.684, bin21453803, year2012",
    "NRMSE_bloom7.002, bin19611953, year199", "NRMSE_bloom7.856, bin21464027, year201",
    "NRMSE_bloom7.87, bin19657771, year2000", "NRMSE_bloom7.913, bin19366381, year201",
    "NRMSE_bloom8.889, bin21438426, year2012",
]

# bloom start / peak / end days (blue dashed lines)
blue_days = [
    [45, 115, 184], [67, 99, 131], [68, 107, 145], [62, 100, 138], [50, 104, 157],
    [95, 148, 201], [108, 140, 172], [100, 130, 159], [97, 120, 143], [77, 128, 179],
    [54, 59, 65], [112, 118, 124], [177, 182, 186], [119, 126, 133], [155, 159, 164],
    [55, 59, 63], [55, 59, 63], [57, 61, 64], [56, 60, 63], [177, 180, 184],
    [55, 59, 63], [56, 59, 63], [89, 90.5, 92], [110, 115, 120], [177, 180.5, 184],
    [175.5, 179.5, 183.5], [58, 59.5, 61], [135, 141, 147], [166, 170.5, 175], [169.5, 173, 176.5],
    [112, 115, 119], [56, 59, 63], [90, 91, 92], [56, 60, 64], [177, 180, 183],
    [55, 59, 63], [176, 180, 184], [86, 89, 92], [57, 59, 61], [177, 180.5, 183],
]

# fitted curve (red)
fit_days = [
    [0, 20, 35, 50, 65, 80, 95, 108, 120, 135, 150, 165, 184, 200, 220],
    [0, 20, 40, 55, 65, 78, 90, 97, 108, 118, 128, 145, 163, 190, 218],
    [0, 20, 40, 55, 70, 85, 100, 105, 115, 125, 142, 154, 168, 195, 220],
    [0, 20, 40, 55, 70, 82, 92, 100, 110, 122, 135, 158, 180, 200, 220],
    [0, 20, 35, 50, 68, 85, 95, 103, 112, 124, 142, 159, 180, 200, 220],
    [0, 20, 40, 60, 80, 88, 95, 110, 125, 140, 150, 165, 186, 201, 220],
    [0, 90, 100, 110, 120, 128, 140, 155, 170, 180, 195, 210, 220],
    [0, 40, 72, 81, 90, 98, 107, 115, 127, 137, 146, 155, 168, 190, 220],
    [0, 20, 40, 60, 85, 98, 106, 112, 119, 128, 137, 150, 170, 195, 220],
    [0, 20, 40, 60, 75, 90, 105, 118, 128, 140, 155, 170, 180, 195, 210, 220],
    [0, 220], [0, 111, 116, 121, 220], [0, 178, 181, 184, 220], [0, 122, 126, 130, 220], [0, 220],
    [0, 220], [0, 220], [0, 220], [0, 220], [0, 220],
    [0, 220], [0, 220], [0, 220], [0, 112, 115, 118, 220], [0, 220],
    [0, 220], [0, 220], [0, 136, 140, 144, 220], [0, 220], [0, 220],
    [0, 220], [0, 220], [0, 220], [0, 220], [0, 220],
    [0, 220], [0, 220], [0, 220], [0, 220], [0, 220],
]
fit_vals = [
    [0.46, 0.43, 0.42, 0.46, 0.58, 0.75, 0.88, 0.92, 0.85, 0.65, 0.47, 0.3, 0.18, 0.125, 0.098],
    [0.8, 0.7, 0.62, 0.6, 0.68, 0.95, 1.6, 1.82, 1.5, 0.8, 0.45, 0.29, 0.26, 0.21, 0.175],
    [0.19, 0.18, 0.175, 0.2, 0.3, 0.5, 0.7, 0.73, 0.55, 0.32, 0.2, 0.16, 0.135, 0.125, 0.115],
    [0.41, 0.37, 0.36, 0.4, 0.65, 1.1, 1.8, 1.98, 1.5, 0.8, 0.4, 0.25, 0.235, 0.22, 0.21],
    [0.12, 0.118, 0.13, 0.16, 0.29, 0.54, 0.74, 0.81, 0.72, 0.54, 0.27, 0.14, 0.1, 0.087, 0.079],
    [0.81, 0.6, 0.42, 0.32, 0.275, 0.27, 0.275, 0.34, 0.48, 0.59, 0.52, 0.3, 0.125, 0.058, 0.031],
    [0.13, 0.3, 0.36, 0.55, 0.9, 1.1, 1.22, 0.95, 0.8, 0.76, 0.82, 0.95, 1.05],
    [0.17, 0.16, 0.15, 0.148, 0.21, 0.37, 0.9, 1.9, 2.6, 1.25, 0.43, 0.18, 0.126, 0.112, 0.107],
    [0.38, 0.33, 0.28, 0.25, 0.23, 0.29, 0.56, 0.8, 0.9, 0.53, 0.22, 0.14, 0.125, 0.105, 0.089],
    [0.067, 0.085, 0.11, 0.16, 0.25, 0.6, 1.8, 3.0, 3.2, 2.5, 1.3, 0.8, 0.72, 0.67, 0.7, 0.77],
    [1.98, 0.27], [1.32, 0.9, 1.0, 0.84, 0.62], [0.16, 0.85, 1.05, 0.95, 1.35],
    [0.83, 1.02, 1.12, 1.03, 1.2], [0.063, 0.6],
    [0.3, 0.035], [2.5, 0.34], [3.6, 0.21], [3.3, 0.52], [0.075, 2.4],
    [2.5, 0.39], [2.57, 0.41], [4.45, 2.1], [1.43, 1.47, 1.5, 1.47, 1.52], [0.057, 2.9],
    [0.053, 3.6], [3.07, 1.14], [1.21, 0.86, 1.0, 0.85, 0.7], [5.0, 15.7], [1.29, 1.64],
    [1.88, 1.8], [2.54, 0.42], [2.57, 1.92], [2.6, 0.48], [0.052, 3.7],
    [3.8, 0.21], [0.056, 3.7], [2.3, 1.5], [2.6, 0.46], [0.052, 3.0],
]

y_breaks = [
    [0.1, 0.3, 1], [0.3, 0.5, 1], [0.1, 0.3, 1], [0.3, 1, 3], [0.1, 0.3, 1],
    [0.03, 0.1, 0.3, 1], [0.1, 0.3, 1, 3], [0.1, 0.3, 1, 3], [0.1, 0.3, 1], [0.03, 0.1, 0.3, 1, 3],
    [0.3, 1, 3], [0.3, 1, 3], [0.1, 0.3, 1, 3], [0.5, 1, 3], [0.1, 0.3, 1],
    [0.03, 0.1, 0.3, 1], [0.3, 1, 3, 10], [0.3, 1, 3], [0.3, 1, 3], [0.1, 0.3, 1, 3],
    [0.3, 1, 3, 10], [0.3, 1, 3, 10], [3, 5, 10], [0.3, 1, 3], [0.1, 0.3, 1, 3],
    [0.1, 0.3, 1, 3], [0.5, 1, 3, 5], [0.1, 0.3, 1, 3], [5, 7, 10], [0.5, 1, 3],
    [0.5, 1, 3, 5], [0.3, 1, 3, 10], [1, 3, 5], [0.3, 1, 3, 10], [0.1, 0.3, 1, 3],
    [0.1, 0.3, 1, 3], [0.1, 0.3, 1, 3], [0.5, 1, 3, 5], [0.3, 1, 3, 10], [0.1, 0.3, 1, 3],
]
x_breaks = [0, 100, 200, 300]


def break_labels(br):
    txt = [f"{b:g}" for b in br]
    dec = max(len(t.split(".")[1]) if "." in t else 0 for t in txt)
    return [f"{b:.{dec}f}" for b in br]


def minor_breaks(br):
    lb = np.log10(br)
    mids = (lb[:-1] + lb[1:]) / 2
    lo = lb[0] - (lb[1] - lb[0]) / 2
    hi = lb[-1] + (lb[-1] - lb[-2]) / 2
    return 10 ** np.concatenate([[lo], mids, [hi]])


W, H = 3000, 3600
fig = plt.figure(figsize=(W / 100, H / 100), dpi=100, facecolor="white")

pw, ph = 528, 358
for i in range(40):
    r, c = divmod(i, 5)
    left = 69 + 594.75 * c
    top = 60 + 447.2 * r
    ax = fig.add_axes([left / W, 1 - (top + ph) / H, pw / W, ph / H])

    x = np.concatenate([days, days_mid])
    vals = np.concatenate([panel_series[i], panel_series_mid[i]]).astype(float)
    fx, fy = fit_days[i], fit_vals[i]

    ax.plot(x, vals, "o", color="black", ms=6.9, mew=0, zorder=2)
    for d in blue_days[i]:
        ax.axvline(d, color="blue", lw=1.5, ls=(0, (4.2, 2.2)), zorder=3)
    ax.plot(fx, fy, color="red", lw=1.2, zorder=4)

    ax.set_yscale("log")
    allv = np.concatenate([vals, fy])
    lo, hi = np.log10(allv.min()), np.log10(allv.max())
    pad = (hi - lo) * 0.05
    ax.set_ylim(10 ** (lo - pad), 10 ** (hi + pad))
    ax.set_xlim(-18, 384)

    br = y_breaks[i]
    ax.set_yticks(br)
    ax.set_yticklabels(break_labels(br))
    ax.yaxis.set_minor_locator(FixedLocator(minor_breaks(br)))
    ax.yaxis.set_minor_formatter(NullFormatter())
    ax.set_xticks(x_breaks)
    ax.set_xticklabels([str(v) for v in x_breaks])
    ax.set_xticks([50, 150, 250, 350], minor=True)

    ax.set_axisbelow(True)
    ax.grid(which="major", color="#EBEBEB", lw=1.3)
    ax.grid(which="minor", color="#EBEBEB", lw=0.65)
    ax.tick_params(which="major", length=3.8, width=0.9, color="#333333",
                   labelsize=12.5, labelcolor="#4D4D4D", pad=3)
    ax.tick_params(which="minor", length=0)
    for sp in ax.spines.values():
        sp.set_color("#333333")
        sp.set_linewidth(1.0)

    # panel title, cut off at the edge of its cell
    t = fig.text(left / W, (H - top + 17) / H, titles[i], fontsize=19,
                 color="black", ha="left", va="baseline")
    clip = Bbox.from_extents((left - 80) / W, (H - top) / H,
                             (left + pw + 13) / W, (H - top + 70) / H)
    t.set_clip_box(TransformedBbox(clip, fig.transFigure))
    t.set_clip_on(True)

fig.savefig("out.png", dpi=100, facecolor="white")
